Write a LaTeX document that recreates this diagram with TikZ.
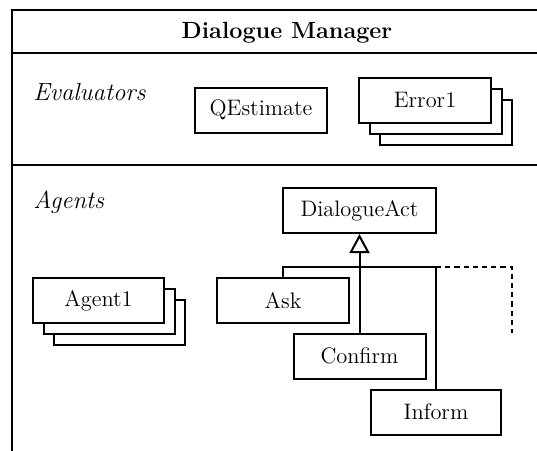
\documentclass[tikz,border=0pt]{standalone}
\usepackage{tikz}
\usetikzlibrary{arrows.meta}
\usetikzlibrary{shadows}

\tikzset{
  frame/.style={line width=1.2pt},
  classbox/.style={draw, fill=white, line width=1pt, rectangle, minimum width=66pt,
    minimum height=22.5pt, inner sep=0pt, font=\fontsize{11.2}{13}\selectfont},
  stackbox/.style={classbox, double copy shadow={shadow xshift=5.3pt, shadow yshift=-5.5pt}},
  partlabel/.style={anchor=base west, inner sep=0pt, font=\fontsize{12.4}{14}\selectfont\itshape},
  link/.style={line width=1pt},
}

\begin{document}
\begin{tikzpicture}[x=0.5pt, y=-0.5pt]
\useasboundingbox (0,0) rectangle (537,451);
\clip (0,0) rectangle (537,451);
% draws frame
\draw[frame] (12,460) |- (545,10);
\draw[frame] (12,53) -- (545,53);
\draw[frame] (12,165) -- (545,165);
% labels parts
\node[anchor=base, inner sep=0pt, font=\fontsize{11.7}{14}\selectfont\bfseries] (title) at (287,38) {Dialogue Manager};
\node[partlabel] (evallbl) at (33,100) {Evaluators};
\node[partlabel] (agentlbl) at (33,208) {Agents};
% draws evaluators
\node[classbox] (qest) at (261,110) {QEstimate};
\node[stackbox] (err) at (425,100) {Error1};
% draws agents
\node[stackbox, minimum width=65.5pt] (agent) at (98.5,300.5) {Agent1};
\node[classbox, minimum width=76.5pt] (dact) at (359.5,210.5) {DialogueAct};
\node[classbox] (ask) at (283,300.5) {Ask};
\node[classbox] (confirm) at (359.5,356) {Confirm};
\node[classbox, minimum width=65pt] (inform) at (436,412) {Inform};
\coordinate (junc) at (436,267);
\coordinate (more) at (512,333);
% draws edges
\draw[link, -{Triangle[open, length=9.5pt, width=10pt, line width=1pt]}] (confirm.north) -- (dact.south);
\draw[link] (ask.north) |- (junc) -- (inform.north);
\draw[link, dash pattern=on 2.6pt off 2pt] (junc) -| (more);
\end{tikzpicture}
\end{document}
